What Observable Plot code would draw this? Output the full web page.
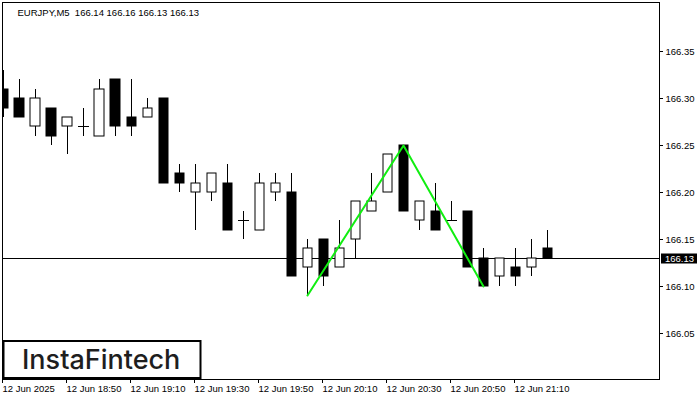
<!DOCTYPE html>
<html>
<head>
<meta charset="utf-8">
<script src="https://cdn.jsdelivr.net/npm/d3@7"></script>
<script src="https://cdn.jsdelivr.net/npm/@observablehq/plot@0.6"></script>
<style>
  html, body { margin: 0; padding: 0; background: #fff; }
  #chart { width: 700px; height: 400px; }
</style>
</head>
<body>
<div id="chart"></div>
<script>
// ---- data ----
const symbol = "EURJPY";
const timeframe = "M5";
const opens  = [166.31,166.30,166.27,166.29,166.27,166.27,166.26,166.32,166.28,166.28,
                166.30,166.22,166.20,166.20,166.21,166.17,166.16,166.20,166.20,166.12,
                166.15,166.12,166.15,166.18,166.20,166.25,166.17,166.18,166.17,166.18,
                166.13,166.11,166.12,166.12,166.14];
const highs  = [166.33,166.32,166.31,166.29,166.28,166.29,166.32,166.32,166.32,166.30,
                166.30,166.23,166.23,166.22,166.23,166.18,166.22,166.22,166.22,166.15,
                166.15,166.17,166.19,166.22,166.24,166.25,166.19,166.21,166.19,166.18,
                166.14,166.13,166.14,166.15,166.16];
const lows   = [166.28,166.28,166.26,166.25,166.24,166.26,166.26,166.26,166.26,166.28,
                166.21,166.20,166.16,166.19,166.16,166.15,166.16,166.19,166.11,166.09,
                166.10,166.12,166.13,166.18,166.20,166.18,166.16,166.16,166.17,166.12,
                166.10,166.10,166.10,166.11,166.13];
const closes = [166.29,166.28,166.30,166.26,166.28,166.27,166.31,166.27,166.27,166.29,
                166.21,166.21,166.21,166.22,166.16,166.17,166.21,166.21,166.11,166.14,
                166.11,166.14,166.19,166.19,166.24,166.18,166.19,166.16,166.17,166.12,
                166.10,166.13,166.11,166.13,166.13];
const currentPrice = 166.13;
const patternIdx = [19, 25, 30];
const patternPrice = [166.09, 166.25, 166.10];
const yTicks = [166.05, 166.10, 166.15, 166.20, 166.25, 166.30, 166.35];
const xTickIdx = [0, 4, 8, 12, 16, 20, 24, 28, 32];
const xTickLabels = ["12 Jun 2025","12 Jun 18:50","12 Jun 19:10","12 Jun 19:30","12 Jun 19:50",
                     "12 Jun 20:10","12 Jun 20:30","12 Jun 20:50","12 Jun 21:10"];
const logoText = "InstaFintech";

// ---- build tables ----
const candles = opens.map((o, i) => ({i, o, h: highs[i], l: lows[i], c: closes[i]}));
const bodies = candles.filter(d => d.o !== d.c);
const dojis = candles.filter(d => d.o === d.c);
const pattern = patternIdx.map((i, k) => ({i, p: patternPrice[k]}));
const labelMap = new Map(xTickIdx.map((v, k) => [v, xTickLabels[k]]));
const last = candles[candles.length - 1];
const header = `${symbol},${timeframe}\u00a0\u00a0${last.o.toFixed(2)} ${last.h.toFixed(2)} ${last.l.toFixed(2)} ${last.c.toFixed(2)}`;

const hw = 0.3;
const font = "'Liberation Sans', Arial, sans-serif";

const plot = Plot.plot({
  width: 700,
  height: 400,
  marginTop: 2,
  marginBottom: 21,
  marginLeft: 2,
  marginRight: 41,
  style: {fontFamily: font, fontSize: "9.5px", color: "#000", background: "#fff"},
  x: {domain: [-0.081, 40.98], round: true},
  y: {domain: [166.0006, 166.4026], round: true},
  marks: [
    Plot.ruleY([currentPrice], {stroke: "#000", strokeWidth: 1}),
    Plot.ruleX(candles, {x: "i", y1: "l", y2: "h", stroke: "#000", strokeWidth: 1, clip: true}),
    Plot.rect(bodies, {
      x1: d => d.i - hw, x2: d => d.i + hw,
      y1: "o", y2: "c",
      fill: d => d.c > d.o ? "#fff" : "#000",
      stroke: "#000", strokeWidth: 1, clip: true
    }),
    Plot.ruleY(dojis, {y: "o", x1: d => d.i - hw - 0.03, x2: d => d.i + hw + 0.03, stroke: "#000", strokeWidth: 1}),
    Plot.line(pattern, {x: "i", y: "p", stroke: "#11ee11", strokeWidth: 2}),
    Plot.frame({stroke: "#000", strokeWidth: 1}),
    Plot.axisY({anchor: "right", ticks: yTicks, tickSize: 3, tickPadding: 3,
                tickFormat: d3.format(".2f"), label: null, fill: "#000"}),
    Plot.axisX({anchor: "bottom", ticks: xTickIdx, tickSize: 4, tickPadding: 2,
                tickFormat: d => labelMap.get(d), textAnchor: "start", dx: -1, label: null, fill: "#000"}),
    Plot.text([header], {frameAnchor: "top-left", dx: 15, dy: 10, textAnchor: "start",
                         lineAnchor: "middle", fill: "#000", fontSize: 9.5})
  ]
});

document.getElementById("chart").appendChild(plot);

// price tag on the right axis
const svg = d3.select(plot);
const yS = plot.scale("y");
const py = Math.round(yS.apply(currentPrice));
svg.append("rect").attr("x", 661).attr("y", py - 4.5).attr("width", 36).attr("height", 10).attr("fill", "#000");
svg.append("text").attr("x", 665).attr("y", py + 0.5).attr("dy", "0.35em")
   .attr("text-anchor", "start")
   .attr("fill", "#fff").attr("font-size", "9.5px").attr("font-family", font)
   .text(currentPrice.toFixed(2));

// logo box
const g = svg.append("g");
g.append("rect").attr("x", 3.5).attr("y", 341).attr("width", 197).attr("height", 37)
  .attr("fill", "#fff").attr("stroke", "#000").attr("stroke-width", 2);
g.append("text").attr("x", 22).attr("y", 369).attr("fill", "#1e1e1e")
  .attr("text-anchor", "start")
  .attr("font-family", "Inter, 'Open Sans', sans-serif").attr("font-weight", 500)
  .attr("font-size", "27px").text(logoText);
</script>
</body>
</html>
